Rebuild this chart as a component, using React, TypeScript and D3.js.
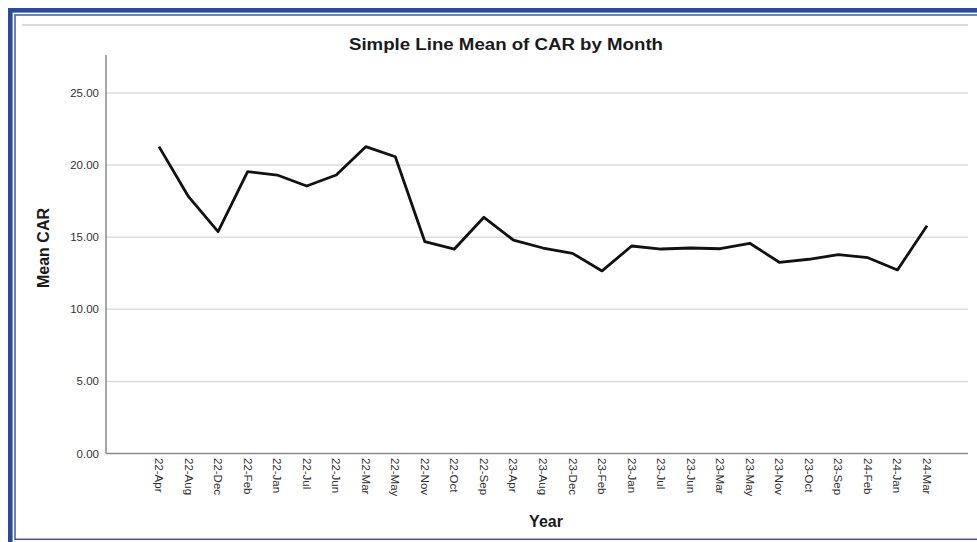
import React from "react";
import * as d3 from "d3";

const months = [
  "22-Apr", "22-Aug", "22-Dec", "22-Feb", "22-Jan", "22-Jul", "22-Jun", "22-Mar", "22-May",
  "22-Nov", "22-Oct", "22-Sep", "23-Apr", "23-Aug", "23-Dec", "23-Feb", "23-Jan", "23-Jul",
  "23-Jun", "23-Mar", "23-May", "23-Nov", "23-Oct", "23-Sep", "24-Feb", "24-Jan", "24-Mar",
];
const meanCAR = [
  21.28, 17.81, 15.38, 19.54, 19.31, 18.55, 19.31, 21.28, 20.58,
  14.69, 14.18, 16.38, 14.8, 14.25, 13.88, 12.66, 14.39, 14.18,
  14.25, 14.2, 14.58, 13.26, 13.47, 13.79, 13.58, 12.73, 15.8,
];
const yTicks = [0, 5, 10, 15, 20, 25];

const W = 977;
const H = 542;
const axisLeft = 106;
const axisRight = 968;
const axisTop = 55;

export default function App() {
  const x = d3.scalePoint<string>().domain(months).range([159, 927]);
  const y = d3.scaleLinear().domain([0, 25]).range([453.5, 93]);
  const line = d3
    .line<number>()
    .x((_, i) => x(months[i]) as number)
    .y((d) => y(d));
  const y0 = y(0);
  const font = "Liberation Sans, Arial, sans-serif";

  return (
    <svg
      width={W}
      height={H}
      style={{ position: "absolute", left: 0, top: 0, background: "#fff" }}
      fontFamily={font}
    >
      <rect x={0} y={0} width={W} height={H} fill="#fff" />
      {/* frame */}
      <rect x={10.3} y={10.3} width={1000} height={700} fill="none" stroke="#2b4a9a" strokeWidth={4.6} />
      <rect x={15} y={15} width={1000} height={524.3} fill="none" stroke="#2f4f9f" strokeWidth={1.4} />
      <line x1={22} x2={968} y1={25} y2={25} stroke="#cfcfcf" strokeWidth={1.5} />

      {/* title */}
      <text x={506} y={50} textAnchor="middle" fontSize={16} fontWeight="bold" fill="#1a1a1a"
        textLength={314} lengthAdjust="spacingAndGlyphs">
        Simple Line Mean of CAR by Month
      </text>

      {/* gridlines */}
      {yTicks.filter((t) => t > 0).map((t) => (
        <line key={t} x1={axisLeft} x2={axisRight} y1={y(t)} y2={y(t)} stroke="#dcdcdc" strokeWidth={1.5} />
      ))}

      {/* axes */}
      <line x1={axisLeft} x2={axisLeft} y1={axisTop} y2={y0} stroke="#8a8a8a" strokeWidth={1.5} />
      <line x1={axisLeft} x2={axisRight} y1={y0} y2={y0} stroke="#8a8a8a" strokeWidth={1.5} />

      {/* y tick labels */}
      {yTicks.map((t) => (
        <text key={t} x={99} y={y(t)} dy="0.35em" textAnchor="end" fontSize={11.5} fill="#333">
          {t.toFixed(2)}
        </text>
      ))}

      {/* x tick labels */}
      {months.map((m) => (
        <text
          key={m}
          transform={`translate(${x(m)},458) rotate(90)`}
          dy="0.35em"
          textAnchor="start"
          fontSize={11.5}
          fill="#333"
        >
          {m}
        </text>
      ))}

      {/* axis titles */}
      <text
        transform="translate(49,248) rotate(-90)"
        textAnchor="middle"
        fontSize={16}
        fontWeight="bold"
        fill="#1a1a1a"
      >
        Mean CAR
      </text>
      <text x={546} y={527} textAnchor="middle" fontSize={16} fontWeight="bold" fill="#1a1a1a">
        Year
      </text>

      {/* line */}
      <path d={line(meanCAR) || ""} fill="none" stroke="#111" strokeWidth={2.8} strokeLinejoin="round" />
    </svg>
  );
}
